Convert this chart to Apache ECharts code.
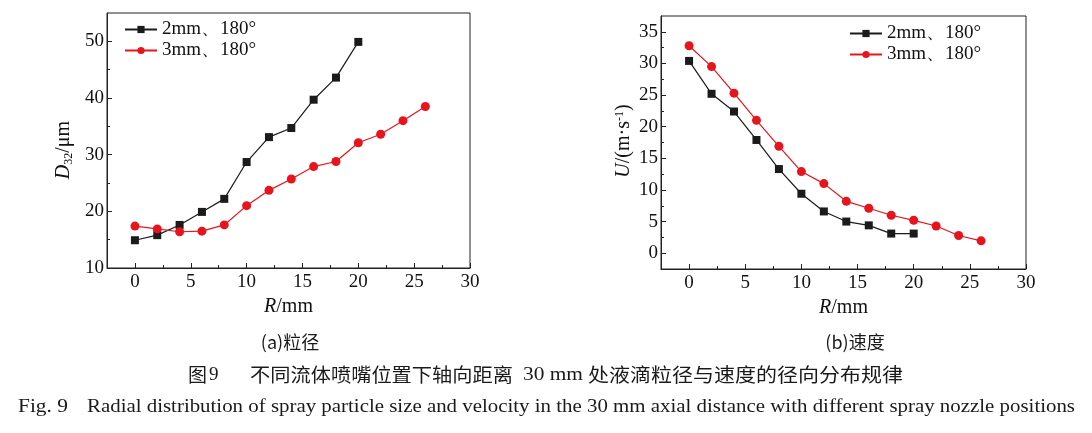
<!DOCTYPE html>
<html>
<head>
<meta charset="utf-8">
<script src="https://cdn.jsdelivr.net/npm/echarts@6/dist/echarts.min.js"></script>
<style>
html,body{margin:0;padding:0;background:#fff;}
#c{width:1092px;height:433px;}
</style>
</head>
<body>
<div id="c"></div>
<script>
// ---- data ----
const seriesNames = ['2mm、180°', '3mm、180°'];
const rBlack = [0, 2, 4, 6, 8, 10, 12, 14, 16, 18, 20];
const rRed = [0, 2, 4, 6, 8, 10, 12, 14, 16, 18, 20, 22, 24, 26];
const d32Black = [14.9, 15.8, 17.6, 19.9, 22.2, 28.7, 33.1, 34.7, 39.7, 43.6, 49.9];
const d32Red = [17.4, 16.9, 16.4, 16.5, 17.6, 21.0, 23.7, 25.7, 27.9, 28.8, 32.1, 33.6, 36.0, 38.5];
const uBlack = [30.4, 25.2, 22.4, 17.9, 13.3, 9.4, 6.6, 5.0, 4.4, 3.1, 3.1];
const uRed = [32.8, 29.5, 25.3, 21.0, 16.9, 12.9, 11.0, 8.2, 7.1, 6.0, 5.2, 4.3, 2.8, 1.95];
const xTicks = [0, 5, 10, 15, 20, 25, 30];
const xMinor = [2.5, 7.5, 12.5, 17.5, 22.5, 27.5];
const yTicksA = [10, 20, 30, 40, 50];
const yMinorA = [15, 25, 35, 45];
const yTicksB = [0, 5, 10, 15, 20, 25, 30, 35];
const yMinorB = [2.5, 7.5, 12.5, 17.5, 22.5, 27.5, 32.5];

const serif = '"Liberation Serif", "Times New Roman", serif';
const cjk = '"Noto Sans CJK SC", sans-serif';
const BLACK = '#1b1b1b';
const RED = '#e8141c';

function pairs(xs, ys) { return xs.map((x, i) => [x, ys[i]]); }

function xAxes(g) {
  const base = { type: 'value', gridIndex: g, min: -2.5, max: 30, position: 'bottom', splitLine: { show: false } };
  return [
    Object.assign({}, base, {
      axisLine: { show: true, onZero: false, lineStyle: { color: '#222', width: 1 } },
      axisTick: { show: true, inside: true, length: 5, customValues: xTicks, lineStyle: { color: '#222' } },
      axisLabel: { show: true, customValues: xTicks, fontFamily: serif, fontSize: 19, color: '#111', margin: 5 },
      name: '{i|R}/mm', nameLocation: 'middle', nameGap: 24,
      nameTextStyle: { fontFamily: serif, fontSize: 20, color: '#111', rich: { i: { fontFamily: serif, fontStyle: 'italic', fontSize: 20, color: '#111' } } }
    }),
    Object.assign({}, base, {
      axisLine: { show: false, onZero: false },
      axisTick: { show: true, inside: true, length: 3, customValues: xMinor, lineStyle: { color: '#222' } },
      axisLabel: { show: false }
    })
  ];
}
function yAxes(g, min, max, ticks, minor) {
  const base = { type: 'value', gridIndex: g, min: min, max: max, position: 'left', splitLine: { show: false } };
  return [
    Object.assign({}, base, {
      axisLine: { show: true, onZero: false, lineStyle: { color: '#222', width: 1 } },
      axisTick: { show: true, inside: true, length: 5, customValues: ticks, lineStyle: { color: '#222' } },
      axisLabel: { show: true, customValues: ticks, fontFamily: serif, fontSize: 19, color: '#111', margin: 3 }
    }),
    Object.assign({}, base, {
      axisLine: { show: false, onZero: false },
      axisTick: { show: true, inside: true, length: 3, customValues: minor, lineStyle: { color: '#222' } },
      axisLabel: { show: false }
    })
  ];
}
function lineSeries(name, color, symbol, size, data, xi, yi) {
  return {
    type: 'line', name: name, xAxisIndex: xi, yAxisIndex: yi, data: data,
    symbol: symbol, symbolSize: size, showSymbol: true,
    lineStyle: { color: color, width: 1.2 },
    itemStyle: { color: color },
    animation: false
  };
}

// text measurement for caption fitting
const mctx = document.createElement('canvas').getContext('2d');
function measure(str, font) { mctx.font = font; return mctx.measureText(str).width; }
function fitText(str, x, y, targetW, size, family, extra) {
  const w = measure(str, size + 'px ' + family);
  return Object.assign({
    type: 'text', x: x, y: y, scaleX: targetW / w, originX: 0, originY: 0,
    style: { text: str, fontFamily: family, fontSize: size, fill: '#1a1a1a', align: 'left', verticalAlign: 'middle' }
  }, extra || {});
}

const legendText = { fontFamily: serif, fontSize: 19, color: '#111', lineHeight: 18 };

const option = {
  backgroundColor: '#fff',
  animation: false,
  grid: [
    { left: 107, top: 13, width: 363, height: 255, show: true, borderColor: '#222', borderWidth: 1, backgroundColor: 'transparent' },
    { left: 661, top: 16, width: 365, height: 253, show: true, borderColor: '#222', borderWidth: 1, backgroundColor: 'transparent' }
  ],
  xAxis: [].concat(xAxes(0), xAxes(1)),
  yAxis: [].concat(yAxes(0, 10, 55, yTicksA, yMinorA), yAxes(1, -2.5, 37.5, yTicksB, yMinorB)),
  legend: [
    { orient: 'vertical', left: 124, top: 20, itemWidth: 32, itemHeight: 9, itemGap: 2,
      textStyle: legendText, data: seriesNames, selectedMode: false, padding: 0 },
    { orient: 'vertical', left: 849, top: 24, itemWidth: 32, itemHeight: 9, itemGap: 2,
      textStyle: legendText, data: seriesNames, selectedMode: false, padding: 0 }
  ],
  series: [
    lineSeries(seriesNames[0], BLACK, 'rect', 8, pairs(rBlack, d32Black), 0, 0),
    lineSeries(seriesNames[1], RED, 'circle', 9, pairs(rRed, d32Red), 0, 0),
    lineSeries(seriesNames[0], BLACK, 'rect', 8, pairs(rBlack, uBlack), 2, 2),
    lineSeries(seriesNames[1], RED, 'circle', 9, pairs(rRed, uRed), 2, 2)
  ],
  graphic: [
    { type: 'text', x: 64, y: 150, rotation: Math.PI / 2,
      style: { text: '{i|D}{s|32}/μm', align: 'center', verticalAlign: 'middle', fontFamily: serif, fontSize: 20, fill: '#111',
        rich: { i: { fontFamily: serif, fontStyle: 'italic', fontSize: 20, fill: '#111' },
                s: { fontFamily: serif, fontSize: 12, fill: '#111', verticalAlign: 'top', padding: [9, 0, 0, 0] } } } },
    { type: 'text', x: 624, y: 141, rotation: Math.PI / 2,
      style: { text: '{i|U}/(m·s{p|-1})', align: 'center', verticalAlign: 'middle', fontFamily: serif, fontSize: 20, fill: '#111',
        rich: { i: { fontFamily: serif, fontStyle: 'italic', fontSize: 20, fill: '#111' },
                p: { fontFamily: serif, fontSize: 12, fill: '#111', verticalAlign: 'top' } } } },
    { type: 'text', x: 290, y: 342, style: { text: '(a)粒径', fontFamily: cjk, fontSize: 18, fill: '#1a1a1a', align: 'center', verticalAlign: 'middle' } },
    { type: 'text', x: 855, y: 342, style: { text: '(b)速度', fontFamily: cjk, fontSize: 18, fill: '#1a1a1a', align: 'center', verticalAlign: 'middle' } },
    { type: 'text', x: 188, y: 375, style: { text: '图', fontFamily: cjk, fontSize: 19, fill: '#1a1a1a', align: 'left', verticalAlign: 'middle' } },
    { type: 'text', x: 209, y: 375, style: { text: '9', fontFamily: serif, fontSize: 19, fill: '#1a1a1a', align: 'left', verticalAlign: 'middle' } },
    fitText('不同流体喷嘴位置下轴向距离', 250, 375, 263, 19, cjk),
    fitText('30 mm', 523, 375, 60, 19, serif),
    fitText('处液滴粒径与速度的径向分布规律', 588, 375, 315, 19, cjk),
    fitText('Fig. 9', 18, 407, 50, 18, serif),
    fitText('Radial distribution of spray particle size and velocity in the 30 mm axial distance with different spray nozzle positions', 87, 407, 988, 18, serif)
  ]
};

const chart = echarts.init(document.getElementById('c'), null, { renderer: 'canvas' });
chart.setOption(option);
</script>
</body>
</html>
